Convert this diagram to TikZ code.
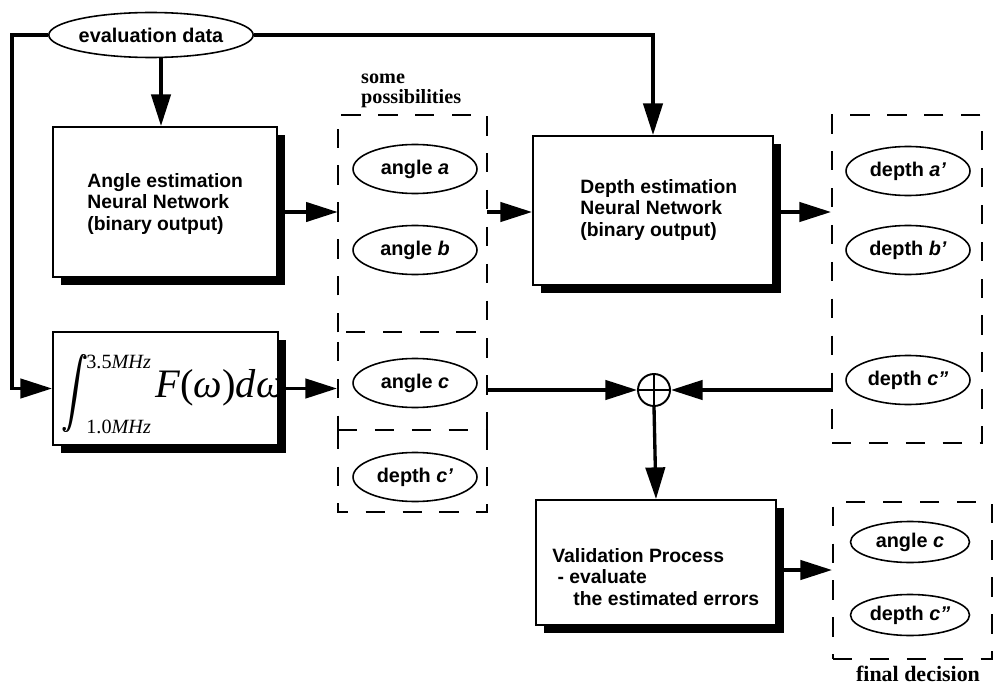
\documentclass[tikz,border=0pt]{standalone}
\usepackage{exscale}
\usepackage{fontspec}
\setmainfont{Liberation Sans}
\newfontfamily\seriff{Liberation Serif}
\usetikzlibrary{arrows.meta,fit,shadows,shapes.geometric}
\begin{document}
\begin{tikzpicture}[x=0.02cm,y=-0.02cm,
  conn/.style={line width=1.9pt},
  arr/.style={conn,-{Triangle[length=18pt,width=11pt]}},
  shbox/.style={draw,line width=1.1pt,fill=white,inner sep=0pt,
    drop shadow={shadow xshift=4.5pt,shadow yshift=-4.5pt,fill=black,opacity=1}},
  dashln/.style={line width=1.1pt,dash pattern=on 11pt off 10pt},
  dbox/.style={draw,dashln,inner sep=0pt},
  oval/.style={draw,ellipse,line width=0.9pt,fill=white,minimum width=2.48cm,minimum height=0.98cm,inner sep=0pt,font=\bfseries\fontsize{11.3}{13}\selectfont},
  boxtext/.style={anchor=west,align=left,inner sep=0pt,font=\bfseries\fontsize{11}{12.3}\selectfont},
  lbl/.style={font=\seriff\bfseries\fontsize{11.5}{11.5}\selectfont,align=left}
]
\useasboundingbox (0,0) rectangle (997,686);

% dashed boxes
\node[inner sep=0pt,fit={(338,115) (487,332)}] (box1) {};
\draw[dashln] (box1.south west) -- (box1.north west) -- (box1.north east) -- (box1.south east);
\node[dbox,fit={(338,332) (487,430)}] (box2) {};
\node[inner sep=0pt,fit={(338,430) (487,512)}] (box2b) {};
\draw[dashln] (box2b.north west) -- (box2b.south west) -- (box2b.south east) -- (box2b.north east);
\node[dbox,fit={(832,115) (982,443)}] (box3) {};
\node[dbox,fit={(833,502) (992,659)}] (box4) {};

% shadowed boxes
\node[shbox,fit={(53,127) (277,277)}] (angle) {};
\node[shbox,fit={(533,136) (773,285)}] (depth) {};
\node[shbox,fit={(53,332) (278,445)}] (intb) {};
\node[shbox,fit={(536,500) (776,625)}] (valid) {};

\node[boxtext] (angtxt) at (87,204) {Angle estimation\\Neural Network\\(binary output)};
\node[boxtext] (deptxt) at (580,210) {Depth estimation\\Neural Network\\(binary output)};
\node[boxtext] (valtxt) at (552,577) {Validation Process\\\hspace{3pt}- evaluate\\\hspace{12pt}the estimated errors};

% integral
\node[inner sep=0pt] (intsign) at (75,393) {\resizebox*{0.54cm}{1.56cm}{\fontsize{20}{20}\selectfont\rlap{$\displaystyle\int$}\hspace{0.7pt}$\displaystyle\int$}};
\node[anchor=west,inner sep=0pt,font=\seriff\fontsize{11.5}{11.5}\selectfont] (up) at (86,362) {3.5\textit{MHz}};
\node[anchor=west,inner sep=0pt,font=\seriff\fontsize{11.5}{11.5}\selectfont] (lo) at (86,427) {1.0\textit{MHz}};
\node[anchor=west,inner sep=0pt,font=\seriff\fontsize{23}{23}\selectfont] (fw) at (155,388) {\textit{F}(\textit{ω})\textit{dω}};

% ellipses
\node[oval,minimum width=3.94cm,minimum height=0.9cm] (ev) at (151,35) {evaluation data};
\node[oval] (aa) at (415,169) {angle \textit{a}};
\node[oval] (ab) at (415,250) {angle \textit{b}};
\node[oval] (ac) at (415,383) {angle \textit{c}};
\node[oval] (dc1) at (415,477) {depth \textit{c'}};
\node[oval] (da) at (908,171) {depth \textit{a'}};
\node[oval] (db) at (908,250) {depth \textit{b'}};
\node[oval] (dc2) at (908,380) {depth \textit{c''}};
\node[oval,minimum width=2.38cm,minimum height=0.82cm] (fa) at (910,542) {angle \textit{c}};
\node[oval,minimum width=2.38cm,minimum height=0.82cm] (fd) at (910,615) {depth \textit{c''}};

% sum
\node[draw,circle,line width=1.1pt,minimum size=0.64cm,inner sep=0pt,fill=white] (sum) at (654,390) {};
\draw[line width=1.1pt] (sum.north) -- (sum.south) (sum.west) -- (sum.east);

% labels
\node[lbl,anchor=west] (poss) at (355,91) {some\\possibilities};
\node[font=\seriff\bfseries\fontsize{12.5}{12.5}\selectfont,inner sep=0pt] (fin) at (918,674) {final decision};

% helper coordinates
\coordinate (c1) at (12,35);
\coordinate (a1) at (161,0);
\coordinate (r1) at (0,212);
\coordinate (r3) at (0,570);

% connectors
\draw[arr] (ev.west) -- (c1) |- (intb.west);
\draw[arr] (ev.east) -| (depth.north);
\draw[arr] (ev.south -| a1) -- (angle.north -| a1);
\draw[arr] (angle.east |- r1) -- (box1.west |- r1);
\draw[arr] (box1.east |- r1) -- (depth.west |- r1);
\draw[arr] (depth.east |- r1) -- (box3.west |- r1);
\draw[arr] (intb.east) -- (box2.west |- intb.east);
\draw[arr] (box2.east |- sum) -- (sum.west);
\draw[arr] (box3.west |- sum) -- (sum.east);
\draw[arr] (sum.south) -- (valid.north);
\draw[arr] (valid.east |- r3) -- (box4.west |- r3);
\end{tikzpicture}
\end{document}
